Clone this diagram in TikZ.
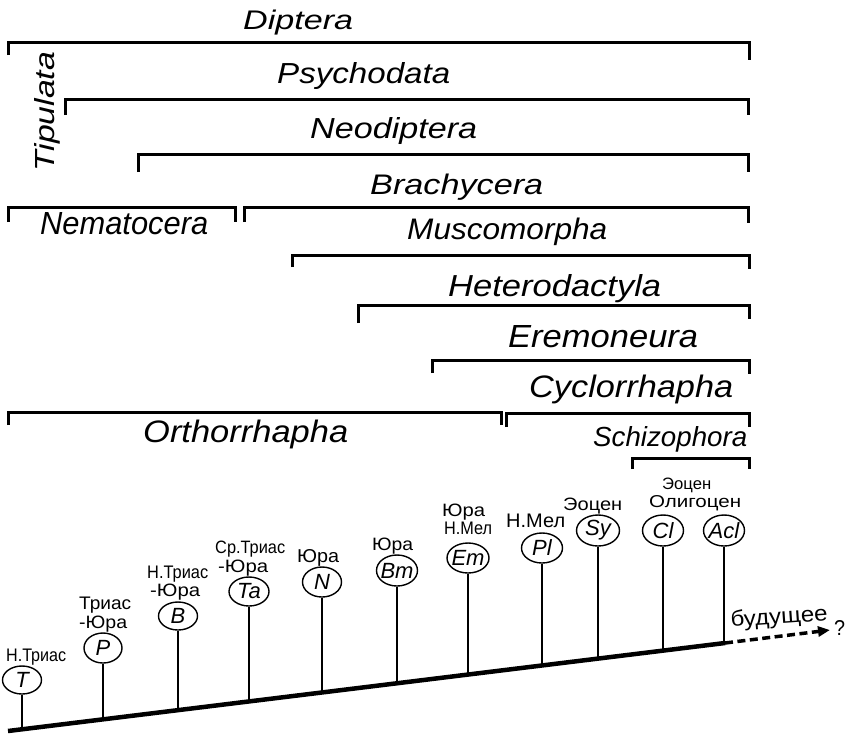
\documentclass[tikz,border=0pt]{standalone}
\usepackage{fontspec}
\setmainfont{Liberation Sans}
\usepackage{graphicx}
\usetikzlibrary{shapes.geometric,arrows.meta}
\newcommand\fitbox[3]{\resizebox{#1pt}{#2pt}{#3}}
\begin{document}
\begin{tikzpicture}[x=1pt,y=-1pt,
  br/.style={line width=3pt, line cap=butt, line join=miter},
  taxon/.style={inner sep=0pt, anchor=base west, font=\fontsize{24}{24}\selectfont\itshape},
  era/.style={inner sep=0pt, anchor=base west, font=\fontsize{15}{15}\selectfont},
  taxcirc/.style={ellipse, draw, line width=1.4pt, inner xsep=-6pt, inner ysep=-3pt, minimum width=40pt, minimum height=30pt, font=\fontsize{22}{22}\selectfont\itshape},
  stemline/.style={line width=2.4pt},
  axisline/.style={line width=4.5pt}]
\path[use as bounding box, fill=white] (0,0) rectangle (850,734);

% ---- brackets ----
\draw[br] (8,55)    |- (749,42)  -- (749,60);
\draw[br] (65,115)  |- (748,99)  -- (748,115);
\draw[br] (138,172) |- (748,154) -- (748,172);
\draw[br] (8,222)   |- (235,207) -- (235,222);
\draw[br] (244,222) |- (748,207) -- (748,223);
\draw[br] (292,267) |- (749,255) -- (749,269);
\draw[br] (358,323) |- (749,305) -- (749,319);
\draw[br] (432,373) |- (749,360) -- (749,374);
\draw[br] (8,425)   |- (501,412) -- (501,425);
\draw[br] (506,427) |- (749,413) -- (749,427);
\draw[br] (632,469) |- (749,458) -- (749,469);

% ---- taxon labels ----
\node[taxon] (diptera) at (243,29) {\fitbox{110}{19.5}{Diptera}};
\node[taxon] (psychodata) at (277,83) {\fitbox{173}{21}{Psychodata}};
\node[taxon] (neodiptera) at (310,138) {\fitbox{167}{21}{Neodiptera}};
\node[taxon] (brachycera) at (370,194) {\fitbox{173}{20.5}{Brachycera}};
\node[taxon, rotate=90] (tipulata) at (54,172) {\fitbox{120}{20}{Tipulata}};
\node[taxon] (nematocera) at (40,234) {\fitbox{168}{22}{Nematocera}};
\node[taxon] (muscomorpha) at (407,239) {\fitbox{200}{21.5}{Muscomorpha}};
\node[taxon] (heterodactyla) at (448,296) {\fitbox{213}{22}{Heterodactyla}};
\node[taxon] (eremoneura) at (508,347) {\fitbox{190}{22}{Eremoneura}};
\node[taxon] (cyclorrhapha) at (529,397) {\fitbox{204}{22.5}{Cyclorrhapha}};
\node[taxon] (orthorrhapha) at (143,442) {\fitbox{205}{22.5}{Orthorrhapha}};
\node[taxon] (schizophora) at (593,446) {\fitbox{154}{20}{Schizophora}};

% ---- time axis ----
\coordinate (ax0) at (8,731);
\coordinate (ax1) at (725,643);
\coordinate (ax2) at (830,630);
\draw[axisline] (ax0) -- (ax1);
\draw[line width=3.5pt, dash pattern=on 8pt off 4.5pt, -{Triangle[length=12pt,width=10pt]}] (ax1) -- (ax2);
\node[era, rotate=4] (future) at (731,627) {\fitbox{97}{16}{будущее}};
\node[era] (question) at (834,635) {\fitbox{11}{15}{?}};

% ---- taxa circles ----
\node[taxcirc, minimum width=39pt, minimum height=28pt] (T) at (22,680) {T};
\node[taxcirc, minimum width=38pt, minimum height=30pt] (P) at (103,648) {P};
\node[taxcirc, minimum width=39pt, minimum height=28pt] (B) at (178,616) {B};
\node[taxcirc, minimum width=40pt, minimum height=29pt] (Ta) at (249,591.5) {Ta};
\node[taxcirc, minimum width=39pt, minimum height=30pt] (N) at (322,582) {N};
\node[taxcirc, minimum width=41pt, minimum height=31pt] (Bm) at (397,570.5) {Bm};
\node[taxcirc, minimum width=42pt, minimum height=30pt] (Em) at (468,558) {Em};
\node[taxcirc, minimum width=41pt, minimum height=30pt] (Pl) at (542,548) {Pl};
\node[taxcirc, minimum width=43pt, minimum height=31pt] (Sy) at (598,530.5) {Sy};
\node[taxcirc, minimum width=41pt, minimum height=31pt] (Cl) at (663,530.5) {Cl};
\node[taxcirc, minimum width=41pt, minimum height=31pt] (Acl) at (724,530.5) {Acl};

% ---- stems ----
\coordinate (Tb) at (22,729.3);
\coordinate (Pb) at (103,719.3);
\coordinate (Bb) at (178,710.1);
\coordinate (Tab) at (249,701.4);
\coordinate (Nb) at (322,692.5);
\coordinate (Bmb) at (397,683.3);
\coordinate (Emb) at (468,674.5);
\coordinate (Plb) at (542,665.5);
\coordinate (Syb) at (598,658.6);
\coordinate (Clb) at (663,650.6);
\coordinate (Aclb) at (724,643.1);
\foreach \n in {T,P,B,Ta,N,Bm,Em,Pl,Sy,Cl,Acl}
  \draw[stemline] (\n) -- (\n b);

% ---- era labels ----
\node[era] (eT) at (6,661) {\fitbox{60}{12.5}{Н.Триас}};
\node[era] (eP1) at (79,609) {\fitbox{52}{12.5}{Триас}};
\node[era] (eP2) at (79,628) {\fitbox{48}{12.5}{-Юра}};
\node[era] (eB1) at (147,578) {\fitbox{61}{12.5}{Н.Триас}};
\node[era] (eB2) at (150,596) {\fitbox{50}{12.5}{-Юра}};
\node[era] (eTa1) at (215,553) {\fitbox{70}{12.5}{Ср.Триас}};
\node[era] (eTa2) at (218,572) {\fitbox{50}{12.5}{-Юра}};
\node[era] (eN) at (297,562) {\fitbox{42}{13}{Юра}};
\node[era] (eBm) at (372,550) {\fitbox{41}{12.5}{Юра}};
\node[era] (eEm1) at (442,516) {\fitbox{43}{12.5}{Юра}};
\node[era] (eEm2) at (444,534) {\fitbox{48}{12.5}{Н.Мел}};
\node[era] (ePl) at (506,527) {\fitbox{59}{13.5}{Н.Мел}};
\node[era] (eSy) at (563,510) {\fitbox{59}{12.5}{Эоцен}};
\node[era] (eCl1) at (662,489) {\fitbox{49}{11.5}{Эоцен}};
\node[era] (eCl2) at (649,507.5) {\fitbox{92}{12}{Олигоцен}};
\end{tikzpicture}
\end{document}
